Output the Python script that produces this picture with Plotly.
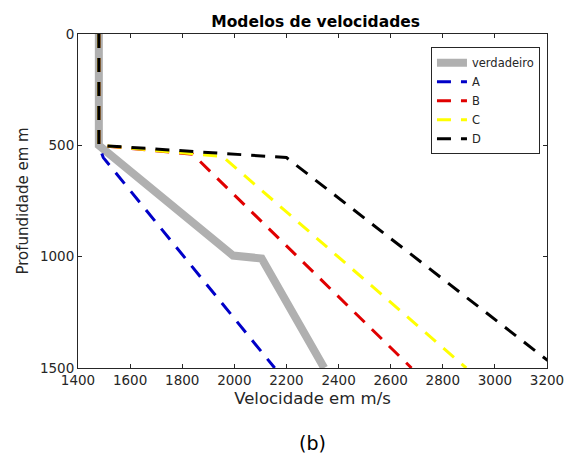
import plotly.graph_objects as go

# True model (verdadeiro)
true_v = [1480, 1480, 1995, 2105, 2345]
true_d = [0, 500, 995, 1008, 1500]

# Models A-D
a_v = [1480, 1480, 1497, 2155]
a_d = [0, 500, 555, 1500]
b_v = [1480, 1480, 1840, 2680]
b_d = [0, 500, 540, 1500]
c_v = [1480, 1480, 1955, 2890]
c_d = [0, 500, 550, 1500]
d_v = [1480, 1480, 2200, 3240]
d_d = [0, 500, 555, 1500]

xticks = [1400, 1600, 1800, 2000, 2200, 2400, 2600, 2800, 3000, 3200]
yticks = [0, 500, 1000, 1500]

fig = go.Figure()
fig.add_trace(go.Scatter(x=true_v, y=true_d, mode="lines", name="verdadeiro",
                         line=dict(color="#b0b0b0", width=8)))
for v, d, name, col in [(a_v, a_d, "A", "#0000c8"), (b_v, b_d, "B", "#e00000"),
                        (c_v, c_d, "C", "#ffff00"), (d_v, d_d, "D", "#000000")]:
    fig.add_trace(go.Scatter(x=v, y=d, mode="lines", name=name,
                             line=dict(color=col, width=3, dash="14px,10px")))

axis_common = dict(showgrid=False, zeroline=False, showline=True, linecolor="#262626",
                   linewidth=1, mirror="ticks", ticks="inside", ticklen=4,
                   tickcolor="#262626", tickfont=dict(size=13.5, color="#262626"))

fig.update_xaxes(range=[1400, 3200], tickvals=xticks,
                 title=dict(text="Velocidade em m/s", font=dict(size=16.5, color="#262626"), standoff=5),
                 **axis_common)
fig.update_yaxes(range=[1500, 0], tickvals=yticks,
                 title=dict(text="Profundidade em m", font=dict(size=15, color="#262626"), standoff=7),
                 **axis_common)

fig.update_layout(
    width=576, height=455,
    margin=dict(l=78, r=29, t=34, b=87),
    paper_bgcolor="white", plot_bgcolor="white",
    font=dict(family="DejaVu Sans", color="#262626"),
    title=dict(text="<b>Modelos de velocidades</b>", x=0.548, xanchor="center",
               xref="container", y=0.953, yanchor="middle", font=dict(size=15.5, color="#000000")),
    legend=dict(x=0.985, y=0.96, xanchor="right", yanchor="top",
                bordercolor="#262626", borderwidth=1, bgcolor="white",
                font=dict(size=11.5, color="#262626"), itemwidth=30,
                tracegroupgap=0),
    showlegend=True,
    annotations=[dict(text="(b)", x=0.5, xref="paper", y=-0.224, yref="paper",
                      showarrow=False, font=dict(size=19, color="#000000"),
                      xanchor="center", yanchor="middle")],
)

fig.write_html("out.html")
